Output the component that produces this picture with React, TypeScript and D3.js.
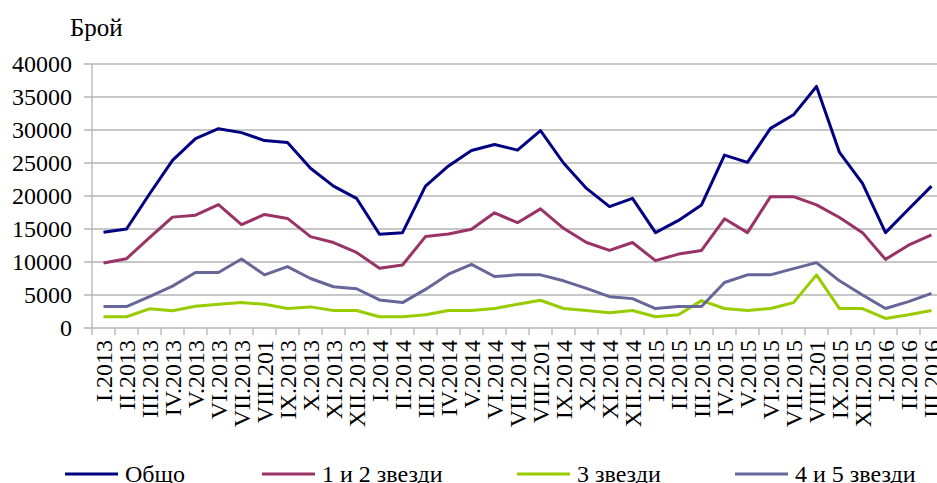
import React, { useEffect, useRef } from 'react'
import * as d3 from 'd3'

const months = [
  'I.2013', 'II.2013', 'III.2013', 'IV.2013', 'V.2013', 'VI.2013', 'VII.2013', 'VIII.201', 'IX.2013', 'X.2013', 'XI.2013', 'XII.2013',
  'I.2014', 'II.2014', 'III.2014', 'IV.2014', 'V.2014', 'VI.2014', 'VII.2014', 'VIII.201', 'IX.2014', 'X.2014', 'XI.2014', 'XII.2014',
  'I.2015', 'II.2015', 'III.2015', 'IV.2015', 'V.2015', 'VI.2015', 'VII.2015', 'VIII.201', 'IX.2015', 'XII.2015',
  'I.2016', 'II.2016', 'III.2016',
]

const total = [14500, 15000, 20300, 25400, 28700, 30200, 29600, 28400, 28100, 24200, 21500, 19650, 14200, 14450, 21500, 24550, 26900, 27800, 26950, 29900, 25000, 21150, 18400, 19650, 14450, 16300, 18650, 26200, 25100, 30250, 32300, 36600, 26600, 21900, 14450, 18000, 21500]
const stars12 = [9850, 10500, 13700, 16800, 17100, 18700, 15650, 17200, 16600, 13850, 12950, 11450, 9050, 9550, 13850, 14250, 14950, 17450, 15950, 18050, 15100, 12950, 11750, 12950, 10200, 11200, 11750, 16550, 14450, 19900, 19900, 18650, 16750, 14450, 10400, 12550, 14100]
const stars3 = [1700, 1700, 2900, 2600, 3300, 3600, 3850, 3600, 2950, 3200, 2650, 2650, 1700, 1700, 2000, 2650, 2650, 2950, 3600, 4200, 2950, 2650, 2300, 2650, 1700, 2000, 4150, 2950, 2650, 2950, 3850, 8050, 2950, 2950, 1450, 2000, 2650]
const stars45 = [3250, 3250, 4750, 6350, 8400, 8400, 10450, 8050, 9300, 7500, 6250, 5950, 4250, 3850, 5850, 8150, 9650, 7800, 8050, 8050, 7150, 6000, 4750, 4450, 2950, 3250, 3250, 6900, 8050, 8050, 9000, 9900, 7150, 5000, 2950, 4000, 5250]

const seriesNames = ['Общо', '1 и 2 звезди', '3 звезди', '4 и 5 звезди']
const yTicks = [0, 5000, 10000, 15000, 20000, 25000, 30000, 35000, 40000]

const Chart = (width: number, height: number) => {
  const GRID = '#B4B4B4'
  const FONT = '"Liberation Serif", "Times New Roman", serif'
  const colors = ['#000080', '#993366', '#99CC00', '#666699']
  const data = [total, stars12, stars3, stars45]

  const svg = d3.create('svg').attr('width', width).attr('height', height)
  svg.append('rect').attr('width', width).attr('height', height).attr('fill', '#fff')

  const left = 92
  const top = 64
  const bottom = 328
  const band = 23

  const x = d3
    .scaleBand()
    .domain(months.map((m, i) => `${i}`))
    .range([left, left + months.length * band])
  const y = d3.scaleLinear().domain([0, 40000]).range([bottom, top])

  // gridlines
  svg
    .append('g')
    .selectAll('line')
    .data(yTicks)
    .join('line')
    .attr('x1', left - 8)
    .attr('x2', x.range()[1])
    .attr('y1', (d) => y(d))
    .attr('y2', (d) => y(d))
    .attr('stroke', GRID)
    .attr('stroke-width', 1.3)

  svg
    .append('line')
    .attr('x1', left)
    .attr('x2', left)
    .attr('y1', top)
    .attr('y2', bottom)
    .attr('stroke', GRID)
    .attr('stroke-width', 1.3)

  // x ticks
  svg
    .append('g')
    .selectAll('line')
    .data(d3.range(months.length + 1))
    .join('line')
    .attr('x1', (i) => left + i * band)
    .attr('x2', (i) => left + i * band)
    .attr('y1', bottom)
    .attr('y2', bottom + 7)
    .attr('stroke', GRID)
    .attr('stroke-width', 1.3)

  svg
    .append('g')
    .attr('font-family', FONT)
    .attr('font-size', 24)
    .attr('text-anchor', 'end')
    .selectAll('text')
    .data(yTicks)
    .join('text')
    .attr('x', 72)
    .attr('y', (d) => y(d))
    .attr('dy', '0.35em')
    .text((d) => `${d}`)

  svg
    .append('text')
    .attr('font-family', FONT)
    .attr('font-size', 25)
    .attr('x', 70)
    .attr('y', 36)
    .text('Брой')

  svg
    .append('g')
    .attr('font-family', FONT)
    .attr('font-size', 24)
    .attr('text-anchor', 'end')
    .selectAll('text')
    .data(months)
    .join('text')
    .attr('transform', (d, i) => `translate(${(x(`${i}`) as number) + band / 2},${bottom + 12}) rotate(-90)`)
    .attr('dy', '0.36em')
    .text((d) => d)

  const line = d3
    .line<number>()
    .x((d, i) => (x(`${i}`) as number) + band / 2)
    .y((d) => y(d))

  svg
    .append('g')
    .selectAll('path')
    .data(data)
    .join('path')
    .attr('fill', 'none')
    .attr('stroke', (d, i) => colors[i])
    .attr('stroke-width', 3)
    .attr('stroke-linejoin', 'round')
    .attr('d', (d) => line(d))

  // legend
  const legendX = [65, 262, 517, 735]
  const legend = svg
    .append('g')
    .selectAll('g')
    .data(seriesNames)
    .join('g')
    .attr('transform', (d, i) => `translate(${legendX[i]},474)`)
  legend
    .append('line')
    .attr('x1', 0)
    .attr('x2', 53)
    .attr('stroke', (d, i) => colors[i])
    .attr('stroke-width', 3)
  legend
    .append('text')
    .attr('x', 60)
    .attr('dy', '0.33em')
    .attr('font-family', FONT)
    .attr('font-size', 24)
    .text((d) => d)

  return svg.node()
}

export default function App() {
  const ref = useRef<HTMLDivElement>(null)
  useEffect(() => {
    const node = Chart(937, 483)
    if (ref.current && node) {
      ref.current.innerHTML = ''
      ref.current.appendChild(node)
    }
  }, [])
  return <div ref={ref} style={{ position: 'absolute', left: 0, top: 0, width: 937, height: 483, overflow: 'hidden' }} />
}
